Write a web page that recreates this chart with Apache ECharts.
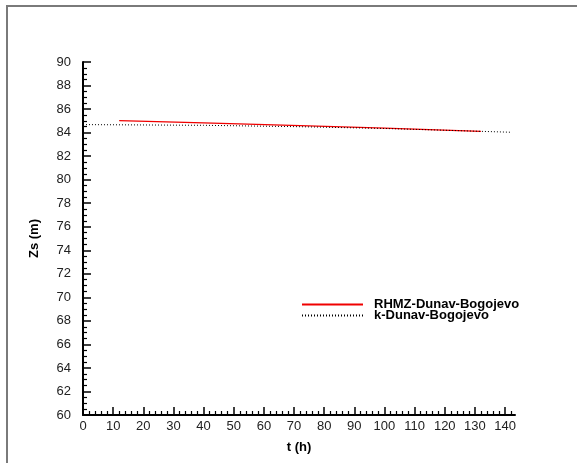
<!DOCTYPE html>
<html>
<head>
<meta charset="utf-8">
<script src="https://cdn.jsdelivr.net/npm/echarts@6/dist/echarts.min.js"></script>
<style>
html,body{margin:0;padding:0;background:#fff;}
#c{width:577px;height:463px;}
</style>
</head>
<body>
<div id="c"></div>
<script>
// Data
const seriesNames = ['RHMZ-Dunav-Bogojevo', 'k-Dunav-Bogojevo'];
const rhmzT = [12, 40, 72, 100, 132];
const rhmzZ = [85.02, 84.82, 84.6, 84.38, 84.11];
const kT = [0, 40, 72, 100, 120, 142];
const kZ = [84.68, 84.62, 84.5, 84.35, 84.2, 84.03];
const xMajorTicks = [0, 10, 20, 30, 40, 50, 60, 70, 80, 90, 100, 110, 120, 130, 140];
const xMinorTicks = [];
for (let v = 2; v <= 142; v += 2) { if (v % 10 !== 0) xMinorTicks.push(v); }
const xMin = 0, xMax = 143.3;
const yMin = 60, yMax = 90, yInterval = 2;

const chart = echarts.init(document.getElementById('c'), null, {renderer: 'canvas'});
const font = 'Liberation Sans, Arial, sans-serif';
const pairs = (a, b) => a.map((v, i) => [v, b[i]]);

chart.setOption({
  animation: false,
  backgroundColor: '#fff',
  graphic: [{
    type: 'rect',
    shape: {x: 7, y: 6, width: 640, height: 520},
    style: {fill: 'none', stroke: '#7a7a7a', lineWidth: 2},
    silent: true
  }],
  grid: {left: 83, top: 62, right: 62, bottom: 48, containLabel: false},
  legend: {
    orient: 'vertical',
    left: 301,
    top: 298,
    itemWidth: 61,
    itemHeight: 8,
    itemGap: -2,
    padding: 0,
    itemStyle: {color: 'transparent', borderWidth: 0, opacity: 0},
    textStyle: {fontFamily: font, fontSize: 13, fontWeight: 'bold', color: '#000', padding: [0, 0, 0, 6]},
    data: seriesNames
  },
  xAxis: [{
    type: 'value', min: xMin, max: xMax,
    name: 't (h)', nameLocation: 'middle', nameGap: 26,
    nameTextStyle: {fontFamily: font, fontSize: 13, fontWeight: 'bold', color: '#000'},
    axisLine: {show: true, lineStyle: {color: '#000', width: 2}},
    axisTick: {show: true, inside: true, length: 8, lineStyle: {color: '#000', width: 1.5}, customValues: xMajorTicks},
    axisLabel: {fontFamily: font, fontSize: 13, color: '#222', margin: 5, customValues: xMajorTicks},
    splitLine: {show: false}
  }, {
    type: 'value', min: xMin, max: xMax, position: 'bottom',
    axisLine: {show: false},
    axisTick: {show: true, inside: true, length: 4, lineStyle: {color: '#000', width: 1.2}, customValues: xMinorTicks},
    axisLabel: {show: false},
    splitLine: {show: false}
  }],
  yAxis: {
    type: 'value', min: yMin, max: yMax, interval: yInterval,
    name: 'Zs (m)', nameLocation: 'middle', nameGap: 42,
    nameTextStyle: {fontFamily: font, fontSize: 13, fontWeight: 'bold', color: '#000'},
    axisLine: {show: true, lineStyle: {color: '#000', width: 2}},
    axisTick: {show: true, inside: true, length: 8, lineStyle: {color: '#000', width: 1.5}},
    minorTick: {show: true, splitNumber: 4, length: 4, lineStyle: {color: '#000', width: 1.2}},
    axisLabel: {fontFamily: font, fontSize: 13, color: '#222', margin: 12},
    splitLine: {show: false}
  },
  series: [{
    name: seriesNames[0], type: 'line', xAxisIndex: 0,
    data: pairs(rhmzT, rhmzZ), showSymbol: false, symbol: 'none',
    lineStyle: {color: '#f00000', width: 1.3}, itemStyle: {color: '#f00000'}
  }, {
    name: seriesNames[1], type: 'line', xAxisIndex: 0,
    data: pairs(kT, kZ), showSymbol: false, symbol: 'none',
    lineStyle: {color: '#000', width: 1, type: [1, 2]}, itemStyle: {color: '#000'}
  }]
});
</script>
</body>
</html>
